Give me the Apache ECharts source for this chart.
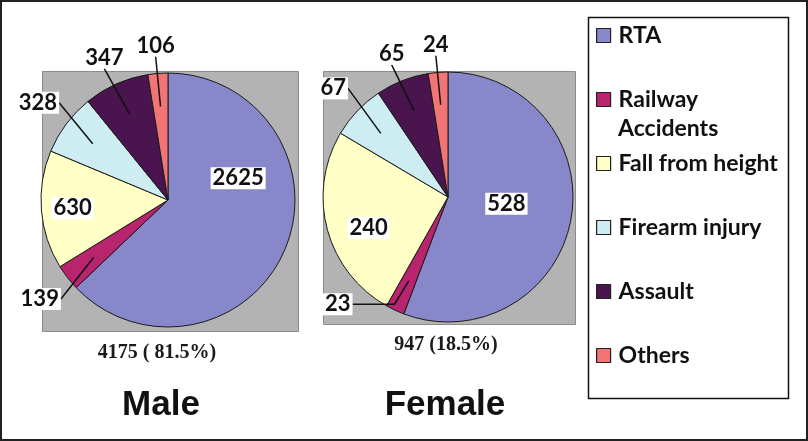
<!DOCTYPE html>
<html><head><meta charset="utf-8">
<script src="https://cdn.jsdelivr.net/npm/echarts@6/dist/echarts.min.js"></script>
<style>html,body{margin:0;padding:0;background:#fff}#c{width:808px;height:441px}</style>
</head><body><div id="c"></div>
<script>
// ---- data ----
const categories = ['RTA', 'Railway Accidents', 'Fall from height', 'Firearm injury', 'Assault', 'Others'];
const legendFirstLine = ['RTA', 'Railway', 'Fall from height', 'Firearm injury', 'Assault', 'Others'];
const legendSecondLine = ['', 'Accidents', '', '', '', ''];
const maleValues = [2625, 139, 630, 328, 347, 106];
const femaleValues = [528, 23, 240, 67, 65, 24];
const groupTitles = ['Male', 'Female'];
const groupTotals = ['4175 ( 81.5%)', '947 (18.5%)'];

// ---- styling / layout ----
const colors = ['#8787C9', '#B8246E', '#FFFFC6', '#CDEDF3', '#4A154E', '#F27474'];
const pieLayout = [
  { center: [168, 200], radius: 127, box: [42, 71, 256, 260], titleX: 161, totalX: 157, totalY: 353 },
  { center: [448, 197], radius: 125, box: [323, 71, 252, 253], titleX: 445, totalX: 446, totalY: 345 }
];
const insideNudge = [{ 0: [9, -48], 2: [-29, 3] }, { 0: [-6, -5], 2: [-16, 14] }];
const elbowLen = [{}, { 1: 42 }];
const values = [maleValues, femaleValues];
const legendLeft = 596, legendTop = 21, legendStep = 64, legendFont = 23;
const leaderStart = 0.74;   // fraction of radius where leader lines start
const leaderOut = 17;       // px beyond the rim

const labelFont = { fontFamily: 'Lato', fontWeight: 'bold', fontSize: 22, color: '#111', backgroundColor: '#fff', padding: [0, 2], lineHeight: 22 };

function insideLayout(s) {
  return function (p) {
    const nudge = insideNudge[s][p.dataIndex];
    const r = p.labelRect;
    if (!nudge) return {};
    return { x: r.x + r.width / 2 + nudge[0], y: r.y + r.height / 2 + nudge[1], align: 'center', verticalAlign: 'middle' };
  };
}
function outsideLayout(s) {
  const L = pieLayout[s];
  return function (p) {
    const pts = p.labelLinePoints;
    if (!pts) return {};
    const rect = p.labelRect, w = rect.width, h = rect.height;
    const n = pts.length;
    const end = pts[n - 1];
    if (elbowLen[s][p.dataIndex]) {
      return { x: end[0] - 11, y: end[1] - 4 - h / 2, align: 'center', verticalAlign: 'middle' };
    }
    let dx = pts[0][0] - L.center[0], dy = pts[0][1] - L.center[1];
    const len = Math.hypot(dx, dy); dx /= len; dy /= len;
    const t = Math.min(w / 2 / Math.max(Math.abs(dx), 1e-6), h / 2 / Math.max(Math.abs(dy), 1e-6));
    return { x: end[0] + dx * t, y: end[1] + dy * t, align: 'center', verticalAlign: 'middle' };
  };
}

const graphics = [
  { type: 'rect', silent: true, shape: { x: 1, y: 1, width: 806, height: 439 }, style: { fill: 'none', stroke: '#222', lineWidth: 2 } },
  { type: 'rect', silent: true, shape: { x: 588.5, y: 17.5, width: 200, height: 381 }, style: { fill: '#fff', stroke: '#111', lineWidth: 1.5 } }
];
pieLayout.forEach((L, s) => {
  graphics.push({ type: 'rect', silent: true, shape: { x: L.box[0] + 0.5, y: L.box[1] + 0.5, width: L.box[2], height: L.box[3] }, style: { fill: '#B3B3B3', stroke: '#8a8a8a', lineWidth: 1 } });
  graphics.push({ type: 'text', silent: true, x: L.titleX, y: 405, style: { text: groupTitles[s], font: 'bold 35px "Liberation Sans", Arial, sans-serif', fill: '#111', align: 'center', verticalAlign: 'middle', textAlign: 'center', textVerticalAlign: 'middle' } });
  graphics.push({ type: 'text', silent: true, x: L.totalX, y: L.totalY, style: { text: groupTotals[s], font: 'bold 20px "Liberation Serif", "Times New Roman", serif', fill: '#1a1a1a', align: 'center', verticalAlign: 'middle', textAlign: 'center', textVerticalAlign: 'middle' } });
});
legendSecondLine.forEach((t, i) => {
  if (!t) return;
  graphics.push({ type: 'text', silent: true, x: legendLeft + 14 + 5 + 3, y: legendTop + 14.5 + i * legendStep + 29, style: { text: t, font: 'bold ' + legendFont + 'px Lato, sans-serif', fill: '#111', align: 'left', verticalAlign: 'middle', textAlign: 'left', textVerticalAlign: 'middle' } });
});

// visible pies (slices + inside labels)
const pieSeries = [0, 1].map(s => ({
  type: 'pie', name: groupTitles[s],
  center: pieLayout[s].center, radius: pieLayout[s].radius,
  startAngle: 90, clockwise: true, avoidLabelOverlap: false, z: 2,
  itemStyle: { borderColor: '#1a1a1a', borderWidth: 1 },
  emphasis: { disabled: true },
  label: Object.assign({ show: false, position: 'inside', formatter: '{c}' }, labelFont),
  labelLine: { show: false },
  labelLayout: insideLayout(s),
  data: categories.map((n, i) => {
    const item = { name: n, value: values[s][i] };
    if (insideNudge[s][i]) item.label = { show: true };
    return item;
  })
}));
// same data, transparent, smaller radius: carries outside labels with leader lines from inside the slices
const leaderSeries = [0, 1].map(s => {
  const R = pieLayout[s].radius;
  return {
    type: 'pie', name: groupTitles[s] + ' labels',
    center: pieLayout[s].center, radius: R * leaderStart,
    startAngle: 90, clockwise: true, avoidLabelOverlap: false, z: 3, silent: true,
    itemStyle: { color: 'rgba(0,0,0,0)', borderWidth: 0 },
    emphasis: { disabled: true },
    label: Object.assign({ show: true, position: 'outside', formatter: '{c}' }, labelFont),
    labelLine: { show: true, length: R * (1 - leaderStart) + leaderOut, length2: 0, smooth: false, minTurnAngle: 0, lineStyle: { color: '#111', width: 1.5 } },
    labelLayout: outsideLayout(s),
    data: categories.map((n, i) => {
      const item = { name: n, value: values[s][i] };
      if (insideNudge[s][i]) { item.label = { show: false }; item.labelLine = { show: false }; }
      if (elbowLen[s][i]) item.labelLine = { length: R * (1 - leaderStart) + 10, length2: elbowLen[s][i] };
      return item;
    })
  };
});

const chart = echarts.init(document.getElementById('c'), null, { renderer: 'canvas' });
chart.setOption({
  animation: false,
  color: colors,
  graphic: { elements: graphics },
  legend: {
    orient: 'vertical', left: legendLeft, top: legendTop, padding: 0,
    itemWidth: 14, itemHeight: 14, itemGap: legendStep - 29, icon: 'rect', selectedMode: false,
    itemStyle: { borderColor: '#222', borderWidth: 1.2 },
    textStyle: { fontFamily: 'Lato', fontWeight: 'bold', fontSize: legendFont, color: '#111', lineHeight: 29, padding: [0, 0, 0, 3] },
    data: categories,
    formatter: n => legendFirstLine[categories.indexOf(n)]
  },
  series: pieSeries.concat(leaderSeries)
});
</script></body></html>
